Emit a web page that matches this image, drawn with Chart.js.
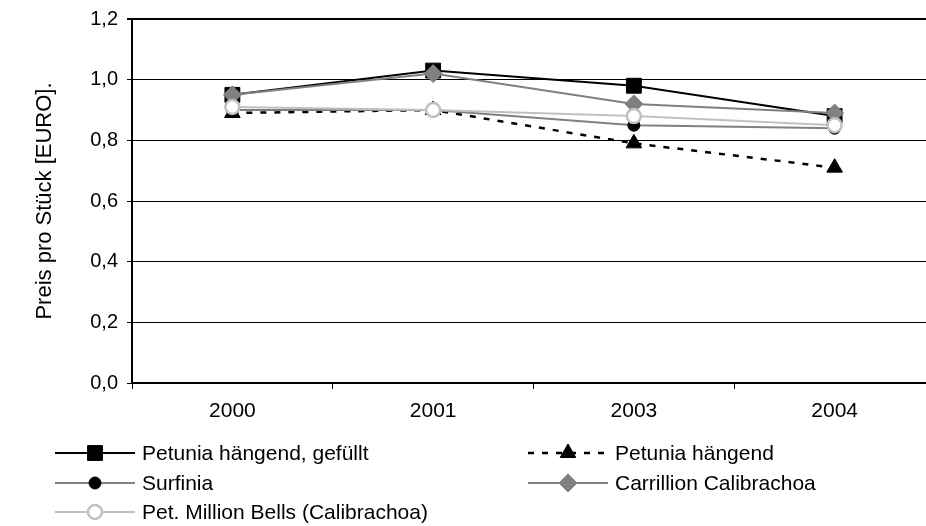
<!DOCTYPE html>
<html>
<head>
<meta charset="utf-8">
<script src="https://cdn.jsdelivr.net/npm/chart.js@4/dist/chart.umd.min.js"></script>
<style>
  html, body { margin: 0; padding: 0; background: #fff; overflow: hidden; }
  canvas { display: block; }
</style>
</head>
<body>
<canvas id="c" width="926" height="526"></canvas>
<script>
// Years on the category axis
const years = ['2000', '2001', '2003', '2004'];

// Price per piece in EURO
const petuniaGefuellt = [0.95, 1.03, 0.98, 0.88];
const petuniaHaengend = [0.89, 0.90, 0.79, 0.71];
const surfinia = [0.90, 0.90, 0.85, 0.84];
const carrillion = [0.95, 1.02, 0.92, 0.89];
const millionBells = [0.91, 0.90, 0.88, 0.85];

// Y axis tick values
const yTicks = [0, 0.2, 0.4, 0.6, 0.8, 1.0, 1.2];

const FONT = 'Arial, "Liberation Sans", sans-serif';

// Plot area runs on past the right edge of the canvas
const PLOT_RIGHT = 935;

const datasets = [
  { label: 'Petunia hängend, gefüllt', data: petuniaGefuellt,
    borderColor: '#000', borderWidth: 2, pointStyle: 'rect', pointRadius: 10.5,
    pointBackgroundColor: '#000', pointBorderColor: '#000', pointBorderWidth: 1, order: 4 },
  { label: 'Petunia hängend', data: petuniaHaengend,
    borderColor: '#000', borderWidth: 2.5, borderDash: [6, 8], pointStyle: 'triangle', pointRadius: 9,
    pointBackgroundColor: '#000', pointBorderColor: '#000', pointBorderWidth: 1, order: 3 },
  { label: 'Surfinia', data: surfinia,
    borderColor: '#808080', borderWidth: 2, pointStyle: 'circle', pointRadius: 6,
    pointBackgroundColor: '#000', pointBorderColor: '#000', pointBorderWidth: 1, order: 2 },
  { label: 'Carrillion Calibrachoa', data: carrillion,
    borderColor: '#808080', borderWidth: 2, pointStyle: 'rectRot', pointRadius: 9,
    pointBackgroundColor: '#808080', pointBorderColor: '#808080', pointBorderWidth: 1, order: 1 },
  { label: 'Pet. Million Bells (Calibrachoa)', data: millionBells,
    borderColor: '#c0c0c0', borderWidth: 2, pointStyle: 'circle', pointRadius: 7,
    pointBackgroundColor: '#fff', pointBorderColor: '#c0c0c0', pointBorderWidth: 2.5, order: 0 }
];

// Stretch the plot area (and the x scale) to PLOT_RIGHT after the layout pass
const widePlot = {
  id: 'widePlot',
  afterLayout(chart) {
    const area = chart.chartArea;
    area.right = PLOT_RIGHT;
    area.width = PLOT_RIGHT - area.left;
    const x = chart.scales.x;
    x.right = PLOT_RIGHT;
    x.width = PLOT_RIGHT - x.left;
    x.configure();
  }
};

// Two-column legend below the plot, each entry showing line + marker
const legendBelow = {
  id: 'legendBelow',
  afterDraw(chart) {
    const ctx = chart.ctx;
    const colX = [55, 528];
    const rowY = [453, 483, 512];
    chart.data.datasets.forEach((ds, i) => {
      const x0 = colX[i % 2];
      const y = rowY[Math.floor(i / 2)];
      ctx.save();
      ctx.strokeStyle = ds.borderColor;
      ctx.lineWidth = ds.borderWidth;
      ctx.setLineDash(ds.borderDash || []);
      ctx.beginPath();
      ctx.moveTo(x0, y);
      ctx.lineTo(x0 + 80, y);
      ctx.stroke();
      ctx.setLineDash([]);
      ctx.fillStyle = ds.pointBackgroundColor;
      ctx.strokeStyle = ds.pointBorderColor;
      ctx.lineWidth = ds.pointBorderWidth;
      Chart.helpers.drawPoint(ctx, {
        pointStyle: ds.pointStyle, radius: ds.pointRadius, rotation: 0,
        borderWidth: ds.pointBorderWidth
      }, x0 + 40, y);
      ctx.fillStyle = '#000';
      ctx.font = '21px ' + FONT;
      ctx.textBaseline = 'middle';
      ctx.textAlign = 'left';
      ctx.fillText(ds.label, x0 + 87, y + 1);
      ctx.restore();
    });
  }
};

new Chart(document.getElementById('c'), {
  type: 'line',
  data: { labels: years, datasets },
  options: {
    responsive: false,
    animation: false,
    devicePixelRatio: 1,
    layout: { padding: { left: 0, top: 18, right: 0, bottom: 98 } },
    plugins: { legend: { display: false }, tooltip: { enabled: false } },
    elements: { line: { tension: 0, fill: false } },
    scales: {
      x: {
        type: 'category',
        offset: true,
        afterFit(scale) { scale.height = 45; },
        grid: { offset: true, drawOnChartArea: false, drawTicks: true, tickLength: 6, color: '#000', lineWidth: 1 },
        border: { display: true, color: '#000', width: 2 },
        ticks: { color: '#000', font: { family: FONT, size: 21 }, padding: 10, maxRotation: 0 }
      },
      y: {
        min: 0, max: 1.2,
        afterFit(scale) { scale.width = 132; },
        afterBuildTicks(scale) { scale.ticks = yTicks.map(v => ({ value: v })); },
        grid: {
          color: '#000',
          lineWidth: ctx => (ctx.tick && ctx.tick.value === 1.2 ? 2 : 1),
          tickLength: 5, drawTicks: true
        },
        border: { display: true, color: '#000', width: 2 },
        ticks: {
          color: '#000', font: { family: FONT, size: 20, lineHeight: 1 }, padding: 9,
          callback: v => v.toFixed(1).replace('.', ',')
        },
        title: {
          display: true, text: 'Preis pro Stück [EURO].', color: '#000',
          font: { family: FONT, size: 22 }, padding: { top: 32, bottom: 0 }
        }
      }
    }
  },
  plugins: [widePlot, legendBelow]
});
</script>
</body>
</html>
